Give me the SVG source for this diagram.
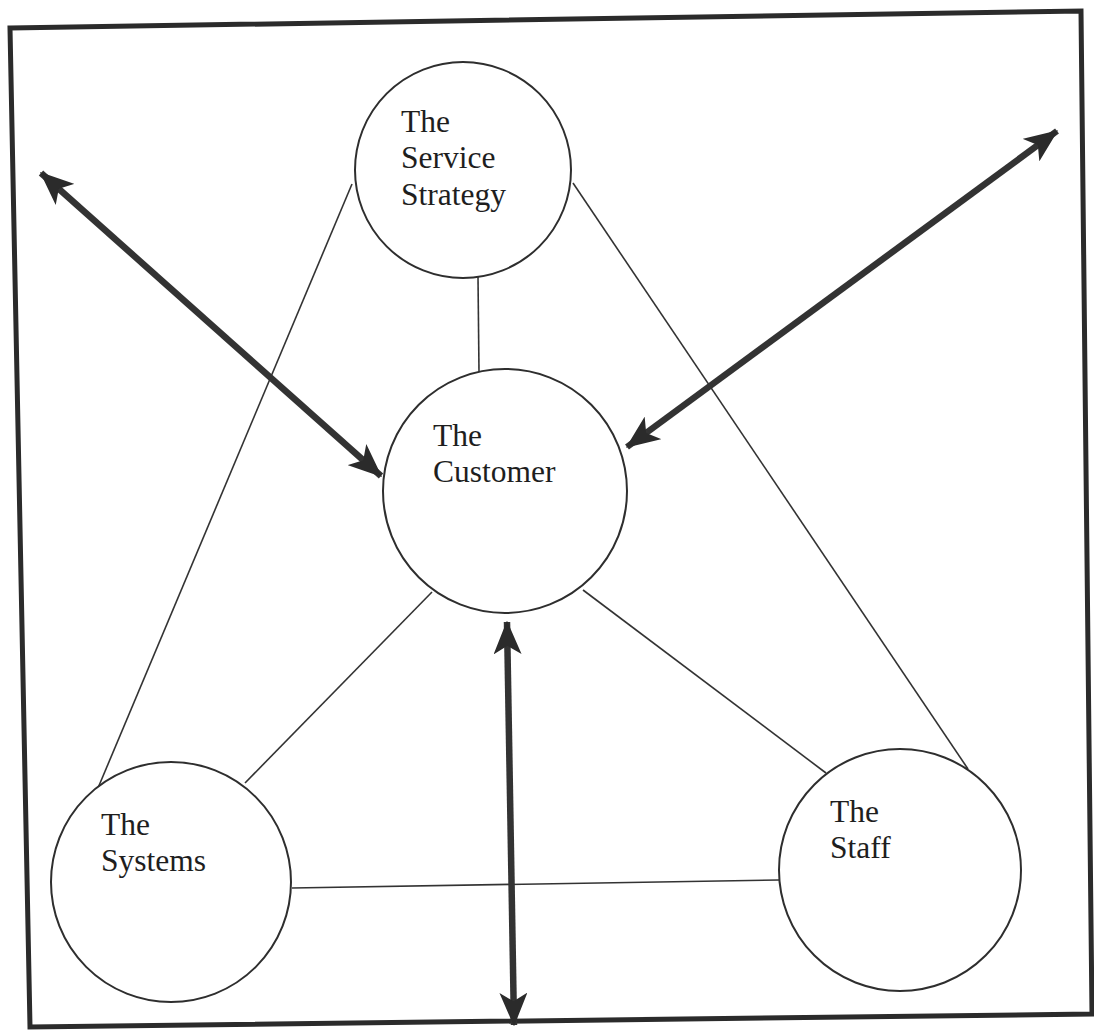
<svg xmlns="http://www.w3.org/2000/svg" width="1094" height="1030" viewBox="0 0 1094 1030">
  <style>
    .frame { fill: none; stroke: #2b2b2b; stroke-width: 5; stroke-linejoin: miter; }
    .node { fill: #ffffff; stroke: #2e2e2e; stroke-width: 2; }
    .link { stroke: #333333; stroke-width: 1.6; fill: none; }
    .flow { stroke: #333333; stroke-width: 6.5; fill: none; marker-start: url(#head); marker-end: url(#head); }
    .label { font-family: "Liberation Serif", "Times New Roman", serif; font-size: 31.5px; fill: #1e1e1e; }
  </style>
  <defs>
    <!-- notched arrowhead, used at both ends of each thick arrow -->
    <marker id="head" viewBox="0 0 12 10" refX="11.5" refY="5" markerUnits="userSpaceOnUse" markerWidth="33.6" markerHeight="28" orient="auto-start-reverse">
      <path d="M0,0 L12,5 L0,10 L3,5 Z" fill="#2b2b2b"/>
    </marker>
  </defs>
  <rect width="1094" height="1030" fill="#ffffff"/>

  <!-- outer border -->
  <polygon class="frame" points="10,28 1081,11 1092,1014 30,1027"/>

  <!-- thin connectors between the four elements -->
  <g id="connectors">
    <line class="link" x1="478" y1="277" x2="479" y2="372"/>
    <line class="link" x1="352" y1="184" x2="98" y2="788"/>
    <line class="link" x1="573" y1="183" x2="968" y2="769"/>
    <line class="link" x1="432" y1="592" x2="245" y2="783"/>
    <line class="link" x1="583" y1="590" x2="826" y2="773"/>
    <line class="link" x1="292" y1="888" x2="779" y2="880"/>
    <!-- two-way influence arrows -->
    <line class="flow" x1="41" y1="173" x2="381" y2="476"/>
    <line class="flow" x1="1057" y1="131" x2="627" y2="447"/>
    <line class="flow" x1="507" y1="622" x2="514" y2="1025"/>
  </g>

  <g id="service-strategy">
    <circle class="node" cx="463" cy="170" r="108"/>
    <text class="label" x="401" y="132">The</text>
    <text class="label" x="401" y="168">Service</text>
    <text class="label" x="401" y="205">Strategy</text>
  </g>

  <g id="customer">
    <circle class="node" cx="505" cy="491" r="122"/>
    <text class="label" x="433" y="446">The</text>
    <text class="label" x="433" y="482">Customer</text>
  </g>

  <g id="systems">
    <circle class="node" cx="171" cy="882" r="120"/>
    <text class="label" x="101" y="835">The</text>
    <text class="label" x="101" y="871">Systems</text>
  </g>

  <g id="staff">
    <circle class="node" cx="900" cy="870" r="121"/>
    <text class="label" x="830" y="822">The</text>
    <text class="label" x="830" y="858">Staff</text>
  </g>
</svg>
